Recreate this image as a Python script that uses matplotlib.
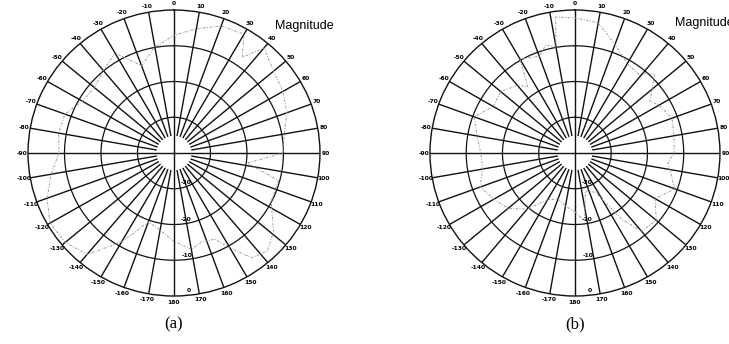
import numpy as np
import matplotlib
matplotlib.use("Agg")
import matplotlib.pyplot as plt

# angles in degrees (0 at top, clockwise), magnitude in dB
theta_a = [-180, -170, -160, -150, -140, -130, -120, -110, -100, -90,
           -80, -70, -60, -50, -40, -30, -20, -10, 0, 10,
           20, 30, 35, 40, 50, 60, 70, 80, 90, 98,
           105, 117, 129, 137, 144, 150, 155, 163, 170, 180]
mag_a = [-15.3, -18.1, -19.5, -11.2, -3.0, -1.1, -0.8, -3.0, -5.8, -8.5,
         -7.9, -8.2, -11.0, -11.5, -9.9, -7.7, -14.0, -9.9, -7.1, -4.7,
         -2.2, -1.6, -7.4, -1.6, -4.4, -5.5, -7.1, -9.3, -10.1, -19.7,
         -10.4, -10.1, -4.9, -2.5, -3.8, -9.3, -13.4, -14.0, -12.6, -15.3]

theta_b = [-180, -170, -160, -150, -140, -130, -120, -110, -100, -90,
           -80, -70, -60, -50, -40, -35, -30, -20, -15, -10,
           -8, 0, 10, 20, 30, 38, 45, 55, 60, 70,
           80, 90, 96, 110, 120, 130, 140, 145, 153, 165,
           172, 180]
mag_b = [-23.6, -24.9, -26.3, -24.9, -19.5, -15.9, -14.2, -12.1, -14.2, -14.0,
         -12.6, -10.4, -14.0, -13.2, -15.3, -17.3, -9.6, -11.2, -8.8, -9.9,
         -1.6, -2.2, -3.0, -7.7, -11.2, -11.8, -8.8, -14.8, -13.2, -11.5,
         -12.3, -12.6, -14.2, -10.7, -14.5, -10.7, -11.5, -17.3, -27.7, -29.0,
         -20.8, -23.6]

angle_ticks = list(range(0, 181, 10)) + list(range(-170, 0, 10))
angle_labels = [str(a) for a in angle_ticks]
rings = [-30, -20, -10]
ring_labels = ["-30", "-20", "-10", "0"]
ring_label_pos = [-30, -20, -10, 0]
ring_label_theta = [158, 170, 173, 174]

fig = plt.figure(figsize=(7.29, 3.44), dpi=100)
panels = [
    ([0.0384, 0.1395, 0.4005, 0.8314], theta_a, mag_a, "(a)", 0.377, 0.924),
    ([0.5898, 0.1395, 0.3978, 0.8314], theta_b, mag_b, "(b)", 0.926, 0.932),
]

full = np.linspace(0, 2 * np.pi, 361)
tick_rad = np.deg2rad(np.mod(angle_ticks, 360))

for rect, th, mag, cap, mx, my in panels:
    ax = fig.add_axes(rect, projection="polar")
    ax.set_theta_zero_location("N")
    ax.set_theta_direction(-1)
    ax.grid(False)
    ax.set_yticks([])
    ax.set_xticks(tick_rad)
    ax.set_xticklabels(angle_labels, fontsize=4.3, fontweight="bold")
    ax.tick_params(axis="x", length=0, pad=-2.5)
    ax.spines["polar"].set_linewidth(1.0)
    ax.spines["polar"].set_color("#111111")

    # rings
    for r in rings:
        ax.plot(full, np.full_like(full, r), color="#111111", lw=0.9)
    # spokes
    for a in tick_rad:
        r0 = -40 if np.isclose(np.mod(np.rad2deg(a), 90), 0) else -35
        ax.plot([a, a], [r0, 0], color="#111111", lw=1.0)

    # radial labels
    for lab, rv, tv in zip(ring_labels, ring_label_pos, ring_label_theta):
        ax.text(np.deg2rad(tv), rv - 1.2, lab, fontsize=4.3, fontweight="bold",
                ha="center", va="center")

    ax.plot(np.deg2rad(np.mod(th, 360)), mag, color="0.6", lw=0.7,
            linestyle=(0, (2.5, 1.5, 1, 1.5)), zorder=3)

    ax.set_thetalim(0, 2 * np.pi)
    ax.set_rlim(-40, 0)
    ax.set_aspect("auto")

    cx = rect[0] + rect[2] / 2
    fig.text(cx, 0.058, cap, family="Liberation Serif", fontsize=12,
             ha="center", va="center")
    fig.text(mx, my, "Magnitude", family="Liberation Sans", fontsize=9,
             ha="left", va="center")

fig.savefig("out.png", dpi=100)
